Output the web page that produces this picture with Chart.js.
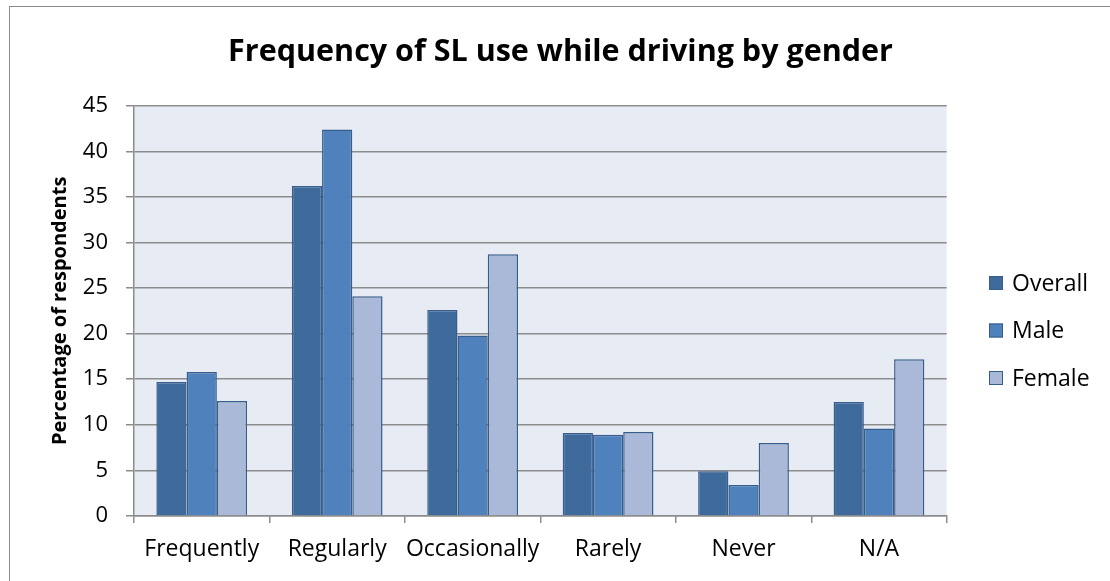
<!DOCTYPE html>
<html><head><meta charset="utf-8">
<script src="https://cdn.jsdelivr.net/npm/chart.js@4.4.1/dist/chart.umd.min.js"></script>
<style>html,body{margin:0;padding:0;background:#fff;}#wrap{width:1110px;height:581px;position:relative;}</style>
</head><body><div id="wrap"><canvas id="c" width="1110" height="581"></canvas></div>
<script>
const categories = ['Frequently', 'Regularly', 'Occasionally', 'Rarely', 'Never', 'N/A'];
const seriesNames = ['Overall', 'Male', 'Female'];
const overallValues = [14.7, 36.2, 22.6, 9.1, 4.9, 12.5];
const maleValues = [15.8, 42.4, 19.8, 8.9, 3.4, 9.6];
const femaleValues = [12.6, 24.1, 28.7, 9.2, 8.0, 17.2];
const yAxisMin = 0, yAxisMax = 45, yAxisStep = 5;
const chartTitle = 'Frequency of SL use while driving by gender';
const yAxisTitle = 'Percentage of respondents';

const FONT = "'Open Sans', 'DejaVu Sans', sans-serif";
const fills = ['#3F6A9C', '#4F81BD', '#AAB9D7'];
const border = '#385D8A';
const gridCol = '#8C8C8C';

const plotBg = {
  id: 'plotBg',
  beforeDraw(chart) {
    const {ctx, chartArea: a} = chart;
    ctx.save();
    ctx.fillStyle = '#E7ECF4';
    ctx.fillRect(a.left, a.top, a.right - a.left, a.bottom - a.top);
    ctx.strokeStyle = '#8A8A8A';
    ctx.lineWidth = 1;
    ctx.strokeRect(9.5, 6.5, 1300, 1000);
    ctx.restore();
  }
};

const customLegend = {
  id: 'customLegend',
  afterDraw(chart) {
    const {ctx} = chart;
    ctx.save();
    ctx.font = "23px " + FONT;
    ctx.textBaseline = 'middle';
    chart.data.datasets.forEach((ds, i) => {
      const cy = 283 + i * 47.5;
      ctx.fillStyle = ds.backgroundColor;
      ctx.fillRect(989, cy - 7, 14, 14);
      ctx.strokeStyle = border;
      ctx.lineWidth = 1;
      ctx.strokeRect(989.5, cy - 6.5, 13, 13);
      ctx.fillStyle = '#000';
      ctx.fillText(ds.label, 1012, cy + 1);
    });
    ctx.restore();
  }
};

new Chart(document.getElementById('c'), {
  type: 'bar',
  data: {
    labels: categories,
    datasets: [
      {label: seriesNames[0], data: overallValues, backgroundColor: fills[0], borderColor: border, borderWidth: 1.5},
      {label: seriesNames[1], data: maleValues, backgroundColor: fills[1], borderColor: border, borderWidth: 1.5},
      {label: seriesNames[2], data: femaleValues, backgroundColor: fills[2], borderColor: border, borderWidth: 1.5}
    ]
  },
  options: {
    responsive: false,
    animation: false,
    datasets: {bar: {categoryPercentage: 0.67, barPercentage: 1.0}},
    layout: {padding: {left: 11, right: 0, top: 0, bottom: 0}},
    plugins: {
      legend: {display: false},
      tooltip: {enabled: false},
      title: {
        display: true, text: chartTitle, color: '#000',
        font: {family: FONT, size: 30.5, weight: 'bold'},
        padding: {top: 33.7, bottom: 35.4}
      }
    },
    scales: {
      x: {
        grid: {display: true, drawOnChartArea: false, drawTicks: true, tickLength: 7, color: gridCol, lineWidth: 1.5, offset: true},
        border: {display: true, color: gridCol, width: 1.5},
        ticks: {color: '#000', font: {family: FONT, size: 23}, padding: 13, maxRotation: 0, autoSkip: false},
        afterFit(s) { s.height = 65; }
      },
      y: {
        min: yAxisMin, max: yAxisMax,
        grid: {color: gridCol, lineWidth: 1.5, tickLength: 8},
        border: {display: true, color: gridCol, width: 1.5},
        ticks: {stepSize: yAxisStep, color: '#000', font: {family: FONT, size: 22}, padding: 18},
        title: {display: true, text: yAxisTitle, color: '#000', font: {family: FONT, size: 20, weight: 'bold'}, padding: {top: 37, bottom: 0}},
        afterFit(s) { s.width = 123; }
      },
      yLegendSpace: {
        position: 'right', display: true, min: yAxisMin, max: yAxisMax,
        grid: {display: false}, border: {display: false}, ticks: {display: false},
        afterFit(s) { s.width = 163.3; }
      }
    }
  },
  plugins: [plotBg, customLegend]
});
</script>
</body></html>
